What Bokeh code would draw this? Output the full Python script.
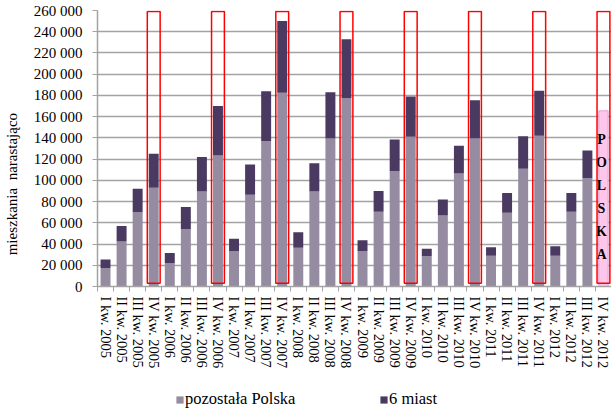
from bokeh.plotting import figure
from bokeh.layouts import column
from bokeh.models import (ColumnDataSource, Range1d, FixedTicker, Legend, LegendItem, LinearAxis)
from bokeh.core.properties import value
from bokeh.embed import file_html
from bokeh.resources import INLINE

quarters = ["I", "II", "III", "IV"]
years = [2005, 2006, 2007, 2008, 2009, 2010, 2011, 2012]
labels = [f"{q} kw. {y}" for y in years for q in quarters]

pozostala = [17500, 42500, 70000, 93000, 22000, 54000, 89500, 123500,
             33500, 86500, 137000, 182500, 36500, 89500, 139500, 177500,
             33500, 70500, 108500, 141000, 28500, 67000, 106500, 139500,
             29000, 69500, 111000, 142000, 29000, 70500, 102000]
miast = [8000, 14500, 22000, 32000, 9500, 21000, 32500, 46500,
         11500, 28500, 47000, 67500, 14500, 26500, 43500, 55500,
         10000, 19500, 30000, 38000, 7000, 15000, 26000, 36000,
         8000, 18500, 30500, 42500, 9000, 17500, 26000]
polska_total = [165500]
polska_label = ["POLSKA"]
series_names = ["pozostała Polska", "6 miast"]
y_title = "mieszkania\u00a0\u00a0narastająco"
y_ticks = list(range(0, 260001, 20000))

FONT = "Liberation Serif"
C_POZ = "#958ca1"
C_MIA = "#4a3a61"
GRID = "#a3a3a3"

n = len(labels)
p = figure(width=611, height=386, x_range=Range1d(-0.5, n - 0.5), y_range=Range1d(0, 260000),
           output_backend="svg", toolbar_location=None,
           min_border_left=97, min_border_right=0, min_border_top=10, min_border_bottom=100)
p.outline_line_color = None
p.background_fill_color = "white"

src = ColumnDataSource(dict(x=list(range(len(pozostala))), pozostala=pozostala, miast=miast))
rs = p.vbar_stack(["pozostala", "miast"], x="x", width=0.62, source=src,
                  fill_color=[C_POZ, C_MIA], line_color=None)

# POLSKA total bar (last quarter)
psrc = ColumnDataSource(dict(x=[n - 1], top=polska_total, label_y=[v * 0.56 for v in polska_total],
                             txt=["\n".join(s) for s in polska_label]))
p.vbar(x="x", top="top", width=0.58, source=psrc, fill_color="#ffc6ec", line_color="#e79ccd", line_width=1)
p.text(x="x", y="label_y", text="txt", source=psrc, text_font=value(FONT), text_font_style="bold",
       text_font_size="14px", text_align="center", text_baseline="middle", text_line_height=1.54,
       x_offset=-2, y_offset=9, text_color="black")

# red highlight frames around every IV quarter
iv_x = [i for i, l in enumerate(labels) if l.startswith("IV")]
p.rect(x=iv_x, y=131000, width=0.8, height=256000, fill_color=None, line_color="red", line_width=1.5)

# axes
p.xaxis.ticker = FixedTicker(ticks=list(range(n)), minor_ticks=[i - 0.5 for i in range(n + 1)])
p.xaxis.major_label_overrides = {i: l for i, l in enumerate(labels)}
p.xaxis.major_label_orientation = "vertical"
p.xaxis.major_tick_out = 0
p.xaxis.major_tick_in = 0
p.xaxis.minor_tick_out = 5
p.xaxis.minor_tick_in = 0
p.xaxis.minor_tick_line_color = GRID
p.xaxis.major_label_standoff = 5
p.xaxis.major_label_text_font = FONT
p.xaxis.major_label_text_font_size = "14.5px"
p.xaxis.major_label_text_color = "black"
p.xaxis.axis_line_color = GRID
p.xaxis.axis_line_width = 1.5

p.yaxis.ticker = FixedTicker(ticks=y_ticks)
p.yaxis.major_label_overrides = {v: f"{v:,}".replace(",", " ") for v in y_ticks}
p.yaxis.major_tick_out = 5
p.yaxis.major_tick_in = 0
p.yaxis.minor_tick_line_color = None
p.yaxis.major_tick_line_color = GRID
p.yaxis.major_label_standoff = 10
p.yaxis.major_label_text_font = FONT
p.yaxis.major_label_text_font_size = "15px"
p.yaxis.major_label_text_color = "black"
p.yaxis.axis_line_color = GRID
p.yaxis.axis_line_width = 1.5

# y-axis title on an extra tick-less axis; trailing spaces move its centre down as in the reference
title_axis = LinearAxis(ticker=FixedTicker(ticks=[]),
                        axis_label=y_title + "\u00a0" * 19,
                        axis_label_text_font=FONT, axis_label_text_font_size="15px",
                        axis_label_text_font_style="normal", axis_label_text_color="black",
                        axis_label_standoff=11, axis_line_color=None,
                        major_tick_line_color=None, minor_tick_line_color=None)
p.add_layout(title_axis, "left")

p.xgrid.visible = False
p.ygrid.grid_line_color = GRID
p.ygrid.grid_line_width = 1.5

# legend strip below the chart
lg = figure(width=611, height=24, x_range=Range1d(0, 1), y_range=Range1d(0, 1),
            output_backend="svg", toolbar_location=None, min_border=0)
lg.axis.visible = False
lg.grid.visible = False
lg.outline_line_color = None
dummy = ColumnDataSource(dict(x=[float("nan")], top=[float("nan")]))
r_poz = lg.vbar(x="x", top="top", width=0.1, source=dummy, fill_color=C_POZ, line_color=None)
r_mia = lg.vbar(x="x", top="top", width=0.1, source=dummy, fill_color=C_MIA, line_color=None)
legend = Legend(items=[LegendItem(label=series_names[0], renderers=[r_poz]),
                       LegendItem(label=series_names[1], renderers=[r_mia])],
                orientation="horizontal", location=(78, 1),
                glyph_width=9, glyph_height=9, label_standoff=1, label_width=184, label_height=16,
                spacing=10, padding=0, margin=0, border_line_color=None, background_fill_alpha=0,
                label_text_font=FONT, label_text_font_size="16.5px", label_text_color="black")
lg.add_layout(legend)

open("out.html", "w").write(file_html(column(p, lg), INLINE))
